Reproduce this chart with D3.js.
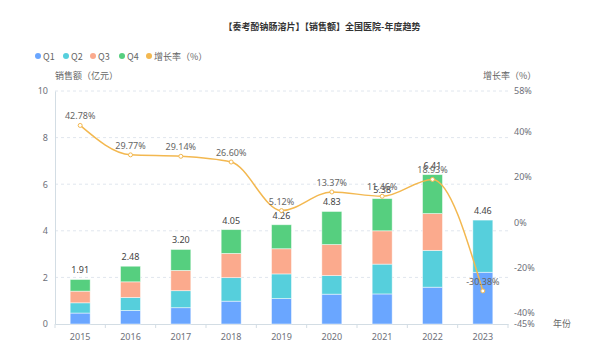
<!DOCTYPE html>
<html><head><meta charset="utf-8">
<script src="https://cdn.jsdelivr.net/npm/d3@7/dist/d3.min.js"></script>
<style>body{margin:0;background:#fff;}svg{display:block;font-family:"Noto Sans CJK SC","Noto Sans",sans-serif;}</style>
</head><body><svg id="c" width="596" height="352"></svg>
<script>
const years = ["2015","2016","2017","2018","2019","2020","2021","2022","2023"];
const q1 = [0.47,0.58,0.70,0.98,1.09,1.28,1.29,1.58,2.22];
const q2 = [0.44,0.56,0.73,1.01,1.06,0.80,1.28,1.58,2.24];
const q3 = [0.50,0.67,0.87,1.04,1.08,1.33,1.43,1.58,null];
const q4 = [0.50,0.67,0.90,1.02,1.03,1.42,1.38,1.67,null];
const totals = ["1.91","2.48","3.20","4.05","4.26","4.83","5.38","6.41","4.46"];
const growth = [42.78,29.77,29.14,26.60,5.12,13.37,11.46,18.93,-30.38];
const leftTicks = [0,2,4,6,8,10];
const rightTicks = [58,40,20,0,-20,-40,-45];
const seriesNames = ["Q1","Q2","Q3","Q4"];
const colors = ["#6aa6ff","#56cfdc","#fbaa8d","#56cf7f"];
const lineColor = "#f3b850";

const svg = d3.select("#c");
const L = 55, R = 508, T = 91, B = 324;
const x = d3.scaleBand().domain(years).range([L,R]);
const y = d3.scaleLinear().domain([0,10]).range([B,T]);
const y2 = d3.scaleLinear().domain([-45,58]).range([B,T]);

// title
svg.append("text").attr("x",322).attr("y",30).attr("text-anchor","middle")
  .attr("font-size",9).attr("font-weight","bold").attr("fill","#333")
  .text("【奏考酚钠肠溶片】【销售额】全国医院-年度趋势");

// legend
const legendItems = seriesNames.map((n,i)=>({n,c:colors[i]})).concat([{n:"增长率（%）",c:lineColor}]);
const lx = [38,66,93,122,149];
legendItems.forEach((d,i)=>{
  svg.append("circle").attr("cx",lx[i]).attr("cy",56).attr("r",3).attr("fill",d.c);
  svg.append("text").attr("x",lx[i]+5).attr("y",59.5).attr("font-size",9).attr("fill","#666").text(d.n);
});

// grid
svg.append("g").selectAll("line").data(leftTicks.filter(t=>t>0)).join("line")
  .attr("x1",L).attr("x2",R).attr("y1",d=>y(d)).attr("y2",d=>y(d))
  .attr("stroke","#e0e6ee").attr("stroke-dasharray","3,3");

// left axis
const ga = svg.append("g").attr("transform",`translate(${L},0)`)
  .call(d3.axisLeft(y).tickValues(leftTicks).tickSize(0).tickPadding(7));
ga.select(".domain").attr("stroke","#d3dde4");
ga.selectAll("text").attr("font-size",9).attr("fill","#6e7079").attr("font-family","'Noto Sans',sans-serif");

// right axis labels
const gr = svg.append("g").attr("transform",`translate(${R},0)`)
  .call(d3.axisRight(y2).tickValues(rightTicks).tickSize(0).tickPadding(6).tickFormat(d=>d+"%"));
gr.select(".domain").remove();
gr.selectAll("text").attr("font-size",9).attr("fill","#6e7079").attr("font-family","'Noto Sans',sans-serif");

// x axis
const gx = svg.append("g").attr("transform",`translate(0,${B})`)
  .call(d3.axisBottom(x).tickSize(0).tickPadding(10));
gx.select(".domain").attr("stroke","#d3dde4");
gx.selectAll("text").attr("font-size",9).attr("fill","#6e7079").attr("font-family","'Noto Sans',sans-serif");
svg.append("g").selectAll("line").data(d3.range(years.length+1)).join("line")
  .attr("x1",i=>L+i*x.step()).attr("x2",i=>L+i*x.step())
  .attr("y1",B).attr("y2",B+4).attr("stroke","#d3dde4");

// axis names
svg.append("text").attr("x",55).attr("y",79).attr("font-size",9).attr("fill","#666").text("销售额（亿元）");
svg.append("text").attr("x",483).attr("y",79).attr("font-size",9).attr("fill","#666").text("增长率（%）");
svg.append("text").attr("x",553).attr("y",327).attr("font-size",9).attr("fill","#666").text("年份");

// stacked bars
const qs = [q1,q2,q3,q4];
const bw = 20;
years.forEach((yr,i)=>{
  let acc = 0;
  qs.forEach((arr,k)=>{
    const v = arr[i];
    if (v==null) return;
    svg.append("rect").attr("x",x(yr)+x.bandwidth()/2-bw/2).attr("width",bw)
      .attr("y",y(acc+v)).attr("height",y(acc)-y(acc+v))
      .attr("fill",colors[k]).attr("stroke","#ffffff").attr("stroke-opacity",0.6).attr("stroke-width",0.8);
    acc += v;
  });
  svg.append("text").attr("x",x(yr)+x.bandwidth()/2).attr("y",y(acc)-6)
    .attr("text-anchor","middle").attr("font-size",9).attr("fill","#444")
    .attr("font-family","'Noto Sans',sans-serif").text(totals[i]);
});

// growth line
const cx = d=>x(d)+x.bandwidth()/2;
const line = d3.line().x((d,i)=>cx(years[i])).y(d=>y2(d)).curve(d3.curveMonotoneX);
svg.append("path").datum(growth).attr("d",line).attr("fill","none").attr("stroke",lineColor).attr("stroke-width",1.5);
svg.append("g").selectAll("circle").data(growth).join("circle")
  .attr("cx",(d,i)=>cx(years[i])).attr("cy",d=>y2(d)).attr("r",2)
  .attr("fill","#fff").attr("stroke",lineColor).attr("stroke-width",1);
svg.append("g").selectAll("text").data(growth).join("text")
  .attr("x",(d,i)=>cx(years[i])).attr("y",d=>y2(d)-6)
  .attr("text-anchor","middle").attr("font-size",9).attr("fill","#666")
  .attr("font-family","'Noto Sans',sans-serif")
  .text(d=>d.toFixed(2)+"%");
</script></body></html>
